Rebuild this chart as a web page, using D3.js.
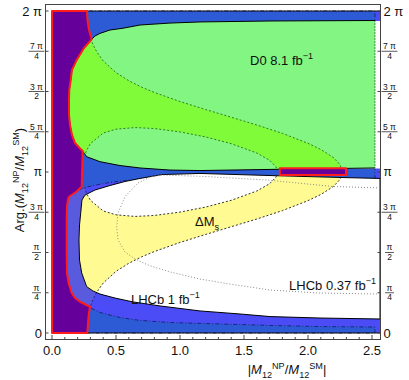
<!DOCTYPE html>
<html>
<head>
<meta charset="utf-8">
<script src="https://cdn.jsdelivr.net/npm/d3@7"></script>
<style>
  body { margin: 0; background: #fff; }
  svg { display: block; }
  text { font-family: "Liberation Sans", Arial, sans-serif; fill: #111; }
</style>
</head>
<body>
<div id="chart"></div>
<script>
/* x = |M12^NP / M12^SM|,  y = Arg(M12^NP / M12^SM) in units of pi */

const xTicks = [0, 0.5, 1, 1.5, 2, 2.5];
const yTicks = [0, 0.25, 0.5, 0.75, 1, 1.25, 1.5, 1.75, 2];
const yTickLabels = [["0", ""], ["π", "4"], ["π", "2"], ["3 π", "4"], ["π", ""],
                     ["5 π", "4"], ["3 π", "2"], ["7 π", "4"], ["2 π", ""]];

/* LHCb 1 fb-1 : whole band (outer contour) */
const lhcbOuter = [[0, 0], [2.5625, 0], [2.5625, 2], [0, 2]];
/* LHCb 1 fb-1 : inner contour, top part and bottom part */
const lhcbInnerTop = [[0.15, 2], [2.523, 2], [2.523, 0.955], [1.0, 0.955], [0.69, 0.954], [0.57, 0.946],
  [0.45, 0.935], [0.33, 0.917], [0.242, 0.901], [0.2, 0.885], [0.15, 0.885]];
const lhcbInnerBottom = [[0.2, 0], [2.523, 0], [2.523, 0.037], [2.094, 0.040], [1.703, 0.047], [1.3125, 0.056],
  [0.922, 0.065], [0.6875, 0.078], [0.531, 0.096], [0.375, 0.127], [0.336, 0.143], [0.281, 0.161], [0.2, 0.163]];
/* LHCb 1 fb-1 : excluded (white) lobes */
const lhcbExclLower = [[0.234, 0.826], [0.2266, 0.764], [0.215, 0.671], [0.211, 0.578], [0.215, 0.453],
  [0.232, 0.373], [0.271, 0.288], [0.320, 0.261], [0.375, 0.242], [0.492, 0.217], [0.633, 0.193],
  [0.844, 0.168], [1.156, 0.137], [1.469, 0.118], [1.703, 0.102], [2.094, 0.093], [2.5625, 0.087],
  [2.5625, 0.960], [2.25, 0.966], [1.703, 0.978], [1.156, 0.991], [0.859, 0.984], [0.6875, 0.960],
  [0.570, 0.941], [0.453, 0.916], [0.336, 0.888], [0.258, 0.857]];
const lhcbExclUpper = [[2.25, 1.022], [2.5625, 1.022], [2.5625, 1.938], [2.25, 1.938]];

/* LHCb 0.37 fb-1 contour (dotted) */
const lhcb037 = [[2.5625, 0.901], [2.195, 0.910], [1.68, 0.950], [1.195, 0.972], [0.859, 0.981],
  [0.766, 0.969], [0.672, 0.932], [0.570, 0.847], [0.516, 0.745], [0.505, 0.660], [0.516, 0.578],
  [0.570, 0.503], [0.648, 0.460], [0.75, 0.422], [0.922, 0.379], [1.156, 0.335], [1.39, 0.304],
  [1.703, 0.267], [2.094, 0.248], [2.5625, 0.242]];

/* Delta Ms band : outer and inner edges, below and above pi */
const dmsOuterLow = [[0.2689, 0], [0.27, 0.033], [0.28, 0.102], [0.3, 0.166], [0.32, 0.208], [0.35, 0.254],
  [0.4, 0.31], [0.5, 0.383], [0.6, 0.433], [0.7, 0.473], [0.8, 0.506], [1.0, 0.5625], [1.2, 0.612],
  [1.4, 0.66], [1.6, 0.708], [1.8, 0.76], [2.0, 0.822], [2.1, 0.86], [2.2, 0.911], [2.25, 0.954], [2.2689, 1.0]];
const dmsInnerLow = [[1.7616, 1.0], [1.75, 0.968], [1.7, 0.927], [1.6, 0.882], [1.4, 0.824], [1.2, 0.782],
  [1.0, 0.751], [0.8, 0.73], [0.65, 0.724], [0.5, 0.734], [0.4, 0.758], [0.3, 0.824], [0.27, 0.866],
  [0.25, 0.916], [0.24, 0.968], [0.2384, 1.0]];
const dmsOuterUp = [[0.2689, 2], [0.27, 1.967], [0.28, 1.898], [0.3, 1.834], [0.32, 1.792], [0.35, 1.746],
  [0.4, 1.69], [0.5, 1.617], [0.6, 1.567], [0.7, 1.527], [0.8, 1.494], [1.0, 1.4375], [1.2, 1.388],
  [1.4, 1.34], [1.6, 1.292], [1.8, 1.24], [2.0, 1.178], [2.1, 1.14], [2.2, 1.089], [2.25, 1.046], [2.2689, 1.0]];
const dmsInnerUp = [[1.7616, 1.0], [1.75, 1.032], [1.7, 1.073], [1.6, 1.118], [1.4, 1.176], [1.2, 1.218],
  [1.0, 1.249], [0.8, 1.27], [0.65, 1.276], [0.5, 1.266], [0.4, 1.242], [0.3, 1.176], [0.27, 1.134],
  [0.25, 1.084], [0.24, 1.032], [0.2384, 1.0]];

/* D0 8.1 fb-1 region, from bottom right, round the left, to top right */
const d0Region = [[2.523, 1.025], [2.25, 1.022], [1.703, 1.016], [1.156, 1.009], [0.922, 1.012],
  [0.6875, 1.025], [0.531, 1.040], [0.375, 1.064], [0.271, 1.095], [0.232, 1.137], [0.180, 1.180],
  [0.156, 1.230], [0.1406, 1.292], [0.1328, 1.354], [0.1328, 1.447], [0.135, 1.509], [0.146, 1.571],
  [0.156, 1.634], [0.193, 1.696], [0.25, 1.770], [0.310, 1.824], [0.336, 1.845], [0.375, 1.861],
  [0.453, 1.882], [0.555, 1.893], [0.6875, 1.913], [0.922, 1.925], [1.156, 1.932], [1.703, 1.938],
  [2.523, 1.941]];

/* combined allowed region (red outline) */
const fitStrip = [[0, 2], [0.273, 2], [0.277, 1.944], [0.289, 1.882], [0.310, 1.824], [0.25, 1.770],
  [0.193, 1.696], [0.156, 1.634], [0.146, 1.571], [0.135, 1.509], [0.1328, 1.447], [0.1328, 1.354],
  [0.1406, 1.292], [0.156, 1.230], [0.180, 1.180], [0.219, 1.146], [0.240, 1.130], [0.238, 1.075],
  [0.234, 0.981], [0.232, 0.909], [0.1875, 0.876], [0.1406, 0.851], [0.1273, 0.839], [0.117, 0.789],
  [0.1148, 0.702], [0.1148, 0.516], [0.117, 0.373], [0.129, 0.311], [0.154, 0.248], [0.180, 0.217],
  [0.219, 0.194], [0.297, 0.163], [0.285, 0.101], [0.276, 0], [0, 0]];
const fitBox = [[1.78, 0.981], [2.297, 0.981], [2.297, 1.023], [1.78, 1.023]];

const colors = {
  lightBlue: "#4c4cf6", darkBlue: "#2d5bd5", slate: "#5a5ade", yellow: "#fffb92",
  lightGreen: "#82f582", brightGreen: "#80fb3a", purple: "#66009a", red: "#ff1c1c"
};

const W = 409, H = 380;
const svg = d3.select("#chart").append("svg").attr("width", W).attr("height", H);

const x = d3.scaleLinear().domain([-0.0547, 2.5625]).range([45, 380]);
const y = d3.scaleLinear().domain([-0.0373, 2.0435]).range([339, 4]);

const line = d3.line().x(d => x(d[0])).y(d => y(d[1]));
const poly = pts => line(pts) + "Z";

const bandLow = [[0, 0], ...dmsOuterLow, ...dmsInnerLow, [0, 1]];
const bandUp = [[0, 2], ...dmsOuterUp, ...dmsInnerUp, [0, 1]];

/* clip paths */
const defs = svg.append("defs");
defs.append("clipPath").attr("id", "plotClip").append("rect")
  .attr("x", x.range()[0]).attr("y", y.range()[1])
  .attr("width", x.range()[1] - x.range()[0]).attr("height", y.range()[0] - y.range()[1]);
defs.append("clipPath").attr("id", "exclClip").append("path").attr("d", poly(lhcbExclLower));
defs.append("clipPath").attr("id", "d0Clip").append("path").attr("d", poly(d0Region));

const g = svg.append("g").attr("clip-path", "url(#plotClip)");

/* LHCb 1 fb-1 */
g.append("path").attr("d", poly(lhcbOuter)).attr("fill", colors.lightBlue);
g.append("path").attr("d", poly(bandLow)).attr("fill", colors.slate);
[dmsOuterLow, dmsInnerLow].forEach(c => {
  g.append("path").attr("d", line(c)).attr("fill", "none")
    .attr("stroke", "#1c2590").attr("stroke-width", 1).attr("stroke-dasharray", "2,2");
});
[lhcbInnerTop, lhcbInnerBottom].forEach(p => {
  g.append("path").attr("d", poly(p)).attr("fill", colors.darkBlue)
    .attr("stroke", "#17206e").attr("stroke-width", 0.9).attr("stroke-dasharray", "4,2,1,2");
});
g.append("path").attr("d", line([lhcbOuter[0], lhcbOuter[1]])).attr("stroke", "#111").attr("stroke-width", 1);
g.append("path").attr("d", line([lhcbOuter[2], lhcbOuter[3]])).attr("stroke", "#111").attr("stroke-width", 1);

/* excluded lobes + Delta Ms band */
g.append("path").attr("d", poly(lhcbExclUpper)).attr("fill", "#fff");
g.append("path").attr("d", poly(lhcbExclLower)).attr("fill", "#fff");
const gEx = g.append("g").attr("clip-path", "url(#exclClip)");
gEx.append("path").attr("d", poly(bandLow)).attr("fill", colors.yellow);
[dmsOuterLow, dmsInnerLow].forEach(c => {
  gEx.append("path").attr("d", line(c)).attr("fill", "none")
    .attr("stroke", "#333").attr("stroke-width", 1).attr("stroke-dasharray", "2,2");
});
g.append("path").attr("d", poly(lhcbExclLower)).attr("fill", "none")
  .attr("stroke", "#000").attr("stroke-width", 1);

/* D0 8.1 fb-1 */
g.append("path").attr("d", poly(d0Region)).attr("fill", colors.lightGreen);
const gD0 = g.append("g").attr("clip-path", "url(#d0Clip)");
gD0.append("path").attr("d", poly(bandUp)).attr("fill", colors.brightGreen);
[dmsOuterUp, dmsInnerUp].forEach(c => {
  gD0.append("path").attr("d", line(c)).attr("fill", "none")
    .attr("stroke", "#2f7d25").attr("stroke-width", 1).attr("stroke-dasharray", "2,2");
});
g.append("path").attr("d", line(d0Region)).attr("fill", "none")
  .attr("stroke", "#000").attr("stroke-width", 1);
g.append("path").attr("d", line([d0Region[d0Region.length - 1], d0Region[0]])).attr("fill", "none")
  .attr("stroke", "#000").attr("stroke-width", 1).attr("stroke-dasharray", "1,2");

/* combined fit */
[fitStrip, fitBox].forEach(p => {
  g.append("path").attr("d", poly(p)).attr("fill", colors.purple)
    .attr("stroke", colors.red).attr("stroke-width", 2).attr("stroke-linejoin", "round");
});

/* LHCb 0.37 fb-1 */
g.append("path").attr("d", line(lhcb037)).attr("fill", "none")
  .attr("stroke", "#8a8a8a").attr("stroke-width", 1).attr("stroke-dasharray", "1,2");

/* rich text helper: parts with sub / sup / italic */
function richText(sel, parts, size) {
  const t = sel.append("text").attr("font-size", size);
  let shift = 0;
  parts.forEach(p => {
    const target = p.sub ? size * 0.3 : p.sup ? -size * 0.42 : 0;
    const ts = t.append("tspan").text(p.t).attr("dy", target - shift);
    if (p.sub || p.sup) ts.attr("font-size", size * 0.7);
    if (p.i) ts.attr("font-style", "italic");
    shift = target;
  });
  return t;
}

/* region labels */
richText(svg, [{t: "D0 8.1 fb"}, {t: "−1", sup: true}], 13)
  .attr("x", x(1.547)).attr("y", y(1.665));
richText(svg, [{t: "ΔM"}, {t: "s", sub: true}], 13)
  .attr("x", x(1.117)).attr("y", y(0.665));
richText(svg, [{t: "LHCb 1 fb"}, {t: "−1", sup: true}], 13)
  .attr("x", x(0.617)).attr("y", y(0.182));
richText(svg, [{t: "LHCb 0.37 fb"}, {t: "−1", sup: true}], 13)
  .attr("x", x(1.852)).attr("y", y(0.27));

/* frame */
const frameColor = "#444";
svg.append("rect")
  .attr("x", x.range()[0] + 0.5).attr("y", y.range()[1] + 0.5)
  .attr("width", x.range()[1] - x.range()[0]).attr("height", y.range()[0] - y.range()[1])
  .attr("fill", "none").attr("stroke", frameColor).attr("stroke-width", 1);

/* bottom ticks */
const yb = y.range()[0] + 0.5;
d3.range(0, 2.55, 0.1).forEach(v => {
  const major = xTicks.some(t => Math.abs(t - v) < 1e-6);
  svg.append("line").attr("x1", x(v)).attr("x2", x(v))
    .attr("y1", yb).attr("y2", yb - (major ? 4.5 : 2.5))
    .attr("stroke", frameColor).attr("stroke-width", 1);
});
svg.selectAll(".xl").data(xTicks).join("text")
  .attr("x", d => x(d)).attr("y", 355).attr("text-anchor", "middle")
  .attr("font-size", 13).text(d3.format(".1f"));

/* left and right ticks with pi labels */
const xl = x.range()[0] + 0.5, xr = x.range()[1] + 0.5;
yTicks.forEach((v, i) => {
  const ty = y(v);
  svg.append("line").attr("x1", xl).attr("x2", xl + 3).attr("y1", ty).attr("y2", ty)
    .attr("stroke", frameColor);
  svg.append("line").attr("x1", xr).attr("x2", xr - 3).attr("y1", ty).attr("y2", ty)
    .attr("stroke", frameColor);
  const [num, den] = yTickLabels[i];
  [[36.5, "end", 42], [389.5, "start", 383.5]].forEach(([cx, anchor, ax]) => {
    if (den === "") {
      const fs = num === "π" ? 12 : 13;
      svg.append("text").attr("x", ax).attr("y", ty + fs * 0.35)
        .attr("text-anchor", anchor).attr("font-size", fs).text(num);
    } else {
      const n = svg.append("text").attr("x", cx).attr("y", ty - 2)
        .attr("text-anchor", "middle").attr("font-size", 8.5).text(num);
      const w = n.node().getComputedTextLength() + 3;
      svg.append("line").attr("x1", cx - w / 2).attr("x2", cx + w / 2)
        .attr("y1", ty).attr("y2", ty).attr("stroke", "#111").attr("stroke-width", 0.7);
      svg.append("text").attr("x", cx).attr("y", ty + 7.5)
        .attr("text-anchor", "middle").attr("font-size", 8.5).text(den);
    }
  });
});

/* axis titles */
richText(svg, [{t: "|"}, {t: "M", i: true}, {t: "12", sub: true}, {t: "NP", sup: true}, {t: "/"},
  {t: "M", i: true}, {t: "12", sub: true}, {t: "SM", sup: true}, {t: "|"}], 13)
  .attr("x", 287).attr("y", 374).attr("text-anchor", "middle");

richText(svg, [{t: "Arg.("}, {t: "M", i: true}, {t: "12", sub: true}, {t: "NP", sup: true}, {t: "/"},
  {t: "M", i: true}, {t: "12", sub: true}, {t: "SM", sup: true}, {t: ")"}], 13)
  .attr("text-anchor", "middle").attr("transform", "translate(24,180) rotate(-90)");
</script>
</body>
</html>
